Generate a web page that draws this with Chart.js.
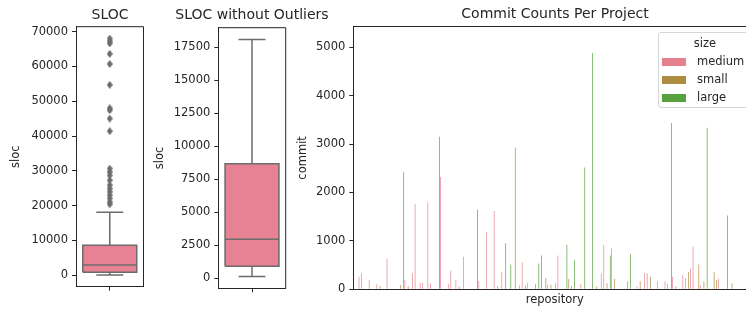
<!DOCTYPE html>
<html>
<head>
<meta charset="utf-8">
<script src="https://cdn.jsdelivr.net/npm/chart.js"></script>
<style>
  html, body { margin: 0; padding: 0; background: #fff; }
  body { width: 746px; height: 309px; overflow: hidden; position: relative; }
  .wrap { position: absolute; top: 0; height: 309px; }
  #legend { position: absolute; left: 657.5px; top: 32px; width: 95px; height: 76px;
    border: 1px solid #d6d6d6; border-radius: 3px; background: rgba(255,255,255,0.8);
    font: 11.5px "DejaVu Sans"; color: #262626; box-sizing: border-box; }
  #legend span { position: absolute; white-space: nowrap; }
</style>
</head>
<body>
<div class="wrap" style="left:0;width:220px"><canvas id="slocChart"></canvas></div>
<div class="wrap" style="left:150px;width:204px"><canvas id="slocNoOutChart"></canvas></div>
<div class="wrap" style="left:290px;width:530px"><canvas id="commitChart"></canvas></div>
<div id="legend"></div>
<script>
// box stats: [lower whisker, q1, median, q3, upper whisker]
const slocStats = [130, 910, 2955, 8670, 18080];
const slocOutliers = [20400, 21100, 22100, 23000, 24000, 24900, 25900, 27300, 28700, 29700,
  30650, 41400, 45000, 47400, 48000, 54700, 60700, 63600, 66600, 67200, 68000];
const slocTicks = [0, 10000, 20000, 30000, 40000, 50000, 60000, 70000];

const slocNoOutStats = [130, 910, 2955, 8670, 18080];
const slocNoOutTicks = [0, 2500, 5000, 7500, 10000, 12500, 15000, 17500];

// commit counts per repository (repository index, commits), one size per repository
const repoCount = 158;
const mediumRepos = [2, 3, 6, 9, 13, 20, 23, 24, 26, 27, 29, 30, 34, 37, 38, 40, 43, 49, 52, 55,
  58, 65, 66, 68, 76, 79, 80, 89, 97, 98, 101, 111, 114, 115, 119, 122, 123, 125, 129, 130,
  132, 133, 136, 143, 154];
const mediumCommits = [260, 330, 190, 110, 630, 190, 330, 1760, 135, 135, 1800, 125, 2320, 110, 385, 190, 670, 170, 1180, 1620,
  357, 80, 560, 135, 95, 125, 700, 110, 330, 920, 850, 65, 330, 330, 165, 165, 110, 260, 300, 235,
  425, 880, 80, 220, 125];
const smallRepos = [10, 18, 21, 41, 56, 63, 67, 71, 75, 77, 84, 85, 95, 99, 102, 107, 112, 116,
  126, 131, 135, 137, 141, 142, 148];
const smallCommits = [70, 90, 70, 65, 70, 2930, 80, 110, 235, 95, 215, 70, 65, 125, 220, 165, 165, 260,
  65, 357, 510, 165, 357, 190, 125];
const largeRepos = [19, 33, 48, 59, 61, 72, 73, 83, 86, 90, 93, 100, 108, 124, 138, 146];
const largeCommits = [2425, 3150, 1650, 950, 510, 535, 700, 920, 605, 2515, 4880, 700, 730, 3435, 3340, 1525];
const commitTicks = [0, 1000, 2000, 3000, 4000, 5000];
const commitMax = 5430;

const sizes = ["medium", "small", "large"];
const sizeColors = ["#e5808f", "#ad8d3f", "#57a13f"];

const boxPink = "#e68294";
const lineGray = "#6c6c6c";
const ink = "#262626";
const fontFam = "DejaVu Sans";

// thin diamond marker like matplotlib 'd'
function thinDiamond(w, h, color) {
  const c = document.createElement("canvas");
  c.width = w; c.height = h;
  const g = c.getContext("2d");
  g.fillStyle = color;
  g.beginPath();
  g.moveTo(w / 2, 0); g.lineTo(w, h / 2); g.lineTo(w / 2, h); g.lineTo(0, h / 2);
  g.closePath(); g.fill();
  return c;
}

// top and right spines
const framePlugin = {
  id: "frame",
  afterDraw(chart) {
    const { ctx, chartArea: a } = chart;
    ctx.save();
    ctx.strokeStyle = ink;
    ctx.lineWidth = 1;
    ctx.beginPath();
    ctx.moveTo(a.left, a.top); ctx.lineTo(a.right, a.top); ctx.lineTo(a.right, a.bottom);
    ctx.stroke();
    ctx.restore();
  }
};

// empty right-side axis, only keeps room so titles stay centred on the axes
function spacer(width) {
  return { position: "right", display: true, afterFit: s => { s.width = width; },
    ticks: { display: false }, grid: { display: false }, border: { display: false } };
}

function yAxis(opts) {
  return {
    min: opts.min, max: opts.max,
    afterBuildTicks: s => { s.ticks = opts.ticks.map(v => ({ value: v })); },
    afterFit: s => { s.width = opts.width; },
    ticks: { color: ink, font: { family: fontFam, size: 11.5 }, padding: 4, callback: v => String(v) },
    grid: { drawOnChartArea: false, tickLength: 4, color: ink },
    border: { color: ink, width: 1 },
    title: { display: true, text: opts.title, color: ink, font: { family: fontFam, size: 11.5 },
      padding: { top: opts.titlePad, bottom: 0 } }
  };
}

function boxChart(id, title, stats, outliers, ticks, lay) {
  const [lo, q1, med, q3, hi] = stats;
  const all = stats.concat(outliers);
  const dmin = Math.min(...all), dmax = Math.max(...all);
  const margin = (dmax - dmin) * 0.05;
  const half = 0.4, cap = 0.2;
  const seg = (x1, y1, x2, y2) => [{ x: x1, y: y1 }, { x: x2, y: y2 }];
  const lineDs = (data, extra) => Object.assign({ type: "line", data: data, borderColor: lineGray,
    borderWidth: 1.5, pointRadius: 0, fill: false, order: 1 }, extra || {});
  const diamond = thinDiamond(6, 8, lineGray);

  new Chart(document.getElementById(id), {
    type: "scatter",
    data: {
      datasets: [
        // box body: q3 edge filled down to q1
        lineDs(seg(-half, q3, half, q3), { borderWidth: 0, fill: { value: q1 }, backgroundColor: boxPink, order: 3 }),
        // box outline
        lineDs([{ x: -half, y: q1 }, { x: -half, y: q3 }, { x: half, y: q3 }, { x: half, y: q1 }, { x: -half, y: q1 }], { order: 2 }),
        lineDs(seg(0, q3, 0, hi)),
        lineDs(seg(0, q1, 0, lo)),
        lineDs(seg(-cap, hi, cap, hi)),
        lineDs(seg(-cap, lo, cap, lo)),
        lineDs(seg(-half, med, half, med)),
        { data: outliers.map(v => ({ x: 0, y: v })), pointStyle: diamond, order: 0 }
      ]
    },
    options: {
      responsive: true, maintainAspectRatio: false, animation: false,
      layout: { padding: 0 },
      plugins: {
        legend: { display: false }, tooltip: { enabled: false },
        title: { display: true, text: title, color: ink, font: { family: fontFam, size: 14, weight: "normal" },
          padding: { top: lay.titleTop, bottom: lay.titleBottom } }
      },
      scales: {
        x: { type: "linear", min: -0.5, max: 0.5,
          afterBuildTicks: s => { s.ticks = [{ value: 0 }]; },
          afterFit: s => { s.height = lay.xHeight; },
          ticks: { callback: () => "" },
          grid: { drawOnChartArea: false, tickLength: 4, color: ink },
          border: { color: ink, width: 1 } },
        y: yAxis({ min: dmin - margin, max: dmax + margin, ticks: ticks, width: lay.yWidth,
          title: "sloc", titlePad: lay.yTitlePad }),
        yr: spacer(lay.right)
      }
    },
    plugins: [framePlugin]
  });
}

boxChart("slocChart", "SLOC", slocStats, slocOutliers, slocTicks,
  { right: 76.5, titleTop: 6.5, titleBottom: 3.4, xHeight: 22.3, yWidth: 76, yTitlePad: 9 });
boxChart("slocNoOutChart", "SLOC without Outliers", slocNoOutStats, [], slocNoOutTicks,
  { right: 68.3, titleTop: 7, titleBottom: 3.9, xHeight: 20.7, yWidth: 68.3, yTitlePad: 3.6 });

// commit chart: one slot per repository, grouped by size
const repoLabels = [];
for (let i = 0; i < repoCount; i++) repoLabels.push("repo " + (i + 1));

function fillSeries(repos, commits) {
  const out = new Array(repoCount).fill(null);
  for (let i = 0; i < repos.length; i++) out[repos[i]] = commits[i];
  return out;
}
const seriesData = [
  fillSeries(mediumRepos, mediumCommits),
  fillSeries(smallRepos, smallCommits),
  fillSeries(largeRepos, largeCommits)
];

const commitChart = new Chart(document.getElementById("commitChart"), {
  type: "bar",
  data: {
    labels: repoLabels,
    datasets: sizes.map((s, i) => ({
      label: s, data: seriesData[i], backgroundColor: sizeColors[i], borderWidth: 0,
      barPercentage: 1, categoryPercentage: 0.8
    }))
  },
  options: {
    responsive: true, maintainAspectRatio: false, animation: false,
    layout: { padding: 0 },
    plugins: {
      legend: { display: false }, tooltip: { enabled: false },
      title: { display: true, text: "Commit Counts Per Project", color: ink,
        font: { family: fontFam, size: 14, weight: "normal" }, padding: { top: 6, bottom: 3.7 } }
    },
    scales: {
      x: {
        afterFit: s => { s.height = 19.7; },
        ticks: { display: false },
        grid: { display: false },
        border: { color: ink, width: 1 },
        title: { display: true, text: "repository", color: ink, font: { family: fontFam, size: 11.5 },
          padding: { top: 0, bottom: 2.1 } }
      },
      y: yAxis({ min: 0, max: commitMax, ticks: commitTicks, width: 63.3, title: "commit", titlePad: 6.4 }),
      yr: spacer(63.8)
    }
  },
  plugins: [framePlugin]
});

// legend box inside the commit axes, upper right
(function () {
  const lg = document.getElementById("legend");
  const t = document.createElement("span");
  t.textContent = "size";
  t.style.left = "0"; t.style.width = "100%"; t.style.textAlign = "center"; t.style.top = "3px";
  lg.appendChild(t);
  commitChart.data.datasets.forEach((ds, i) => {
    const y = 28.5 + i * 18.2;
    const sw = document.createElement("span");
    sw.style.left = "3.5px"; sw.style.top = (y - 4) + "px";
    sw.style.width = "24px"; sw.style.height = "8px"; sw.style.background = ds.backgroundColor;
    lg.appendChild(sw);
    const tx = document.createElement("span");
    tx.textContent = ds.label;
    tx.style.left = "38.5px"; tx.style.top = (y - 8) + "px";
    lg.appendChild(tx);
  });
})();
</script>
</body>
</html>
